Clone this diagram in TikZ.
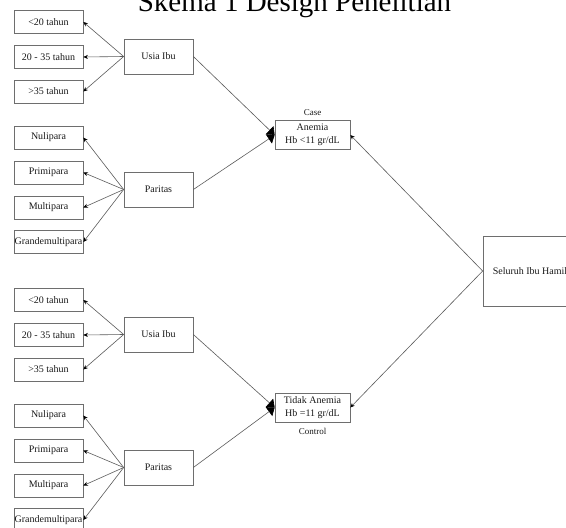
\documentclass[tikz,border=0pt]{standalone}
\usepackage{fontspec}
\setmainfont{Liberation Serif}
\usetikzlibrary{arrows.meta}
\definecolor{boxgray}{HTML}{6E6E6E}
\definecolor{linegray}{HTML}{5A5A5A}
\begin{document}
\begin{tikzpicture}[x=1pt,y=-1pt,
  box/.style={draw=boxgray, line width=0.7pt, rectangle, inner sep=0pt,
    font=\fontsize{10}{13}\selectfont, text=black!90, align=center},
  smallbox/.style={box, minimum width=69pt, minimum height=23pt},
  midbox/.style={box, minimum width=69pt, minimum height=35pt},
  resbox/.style={box, minimum width=75pt, minimum height=29pt},
  conn/.style={draw=linegray, line width=0.6pt},
  sarr/.style={conn, -{Stealth[length=4.5pt,width=4pt,color=black]}},
  barr/.style={conn, -{Triangle[length=7pt,width=11pt,color=black]}},
  lab/.style={font=\fontsize{9}{10}\selectfont, text=black!90, inner sep=0pt}]
\useasboundingbox (0,0) rectangle (566,528);
\clip (0,0) rectangle (566,528);

\node[anchor=base, font=\fontsize{29}{30}\selectfont, inner sep=0pt] (title) at (294.5,11) {Skema 1 Design Penelitian};

\foreach \o/\s in {0/a,278/b}{
  \node[smallbox] (lt1\s) at (48.5,22+\o) {<20 tahun};
  \node[smallbox] (lt2\s) at (48.5,57+\o) {20 - 35 tahun};
  \node[smallbox] (lt3\s) at (48.5,91.5+\o) {>35 tahun};
  \node[midbox] (usia\s) at (158.5,56.5+\o) {Usia Ibu};
  \node[smallbox] (p1\s) at (48.5,137.5+\o) {Nulipara};
  \node[smallbox] (p2\s) at (48.5,172.5+\o) {Primipara};
  \node[smallbox] (p3\s) at (48.5,207.5+\o) {Multipara};
  \node[smallbox] (p4\s) at (48.5,242+\o) {Grandemultipara};
  \node[midbox] (par\s) at (158.5,189.5+\o) {Paritas};
  \draw[sarr] (usia\s.west) -- (lt1\s.east);
  \draw[sarr] (usia\s.west) -- (lt2\s.east);
  \draw[sarr] (usia\s.west) -- (lt3\s.east);
  \draw[sarr] (par\s.west) -- (p1\s.east);
  \draw[sarr] (par\s.west) -- (p2\s.east);
  \draw[sarr] (par\s.west) -- (p3\s.east);
  \draw[sarr] (par\s.west) -- (p4\s.east);
}

\node[resbox] (anem) at (312.5,135) {Anemia\\Hb <11 gr/dL};
\node[resbox] (tidak) at (312.5,407.5) {Tidak Anemia\\Hb =11 gr/dL};
\node[lab] (case) at (312.5,113) {Case};
\node[lab] (control) at (312.5,431) {Control};
\node[box, minimum width=94pt, minimum height=70pt] (sel) at (530,271) {Seluruh Ibu Hamil};

\draw[barr] (usiaa.east) -- (anem.west);
\draw[barr] (para.east) -- (anem.west);
\draw[barr] (usiab.east) -- (tidak.west);
\draw[barr] (parb.east) -- (tidak.west);
\draw[sarr] (sel.west) -- (anem.east);
\draw[sarr] (sel.west) -- (tidak.east);
\end{tikzpicture}
\end{document}
